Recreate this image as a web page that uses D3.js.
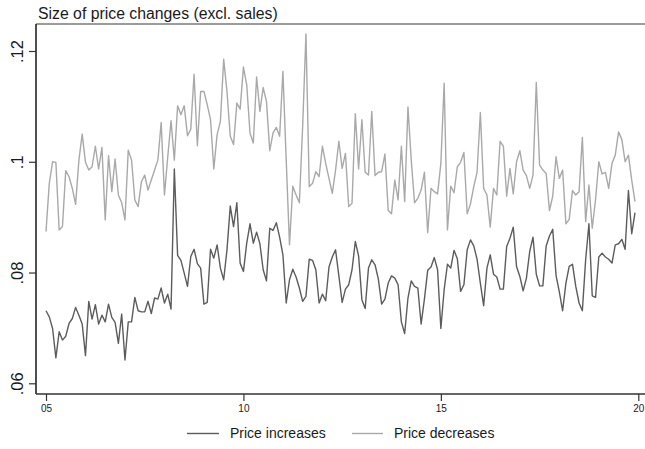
<!DOCTYPE html>
<html>
<head>
<meta charset="utf-8">
<script src="https://cdn.jsdelivr.net/npm/d3@7/dist/d3.min.js"></script>
<style>
  html, body { margin: 0; padding: 0; background: #fff; }
  svg { display: block; font-family: "Liberation Sans", Arial, sans-serif; }
</style>
</head>
<body>
<svg id="chart" width="645" height="449"></svg>
<script>
// Monthly average size of price changes, January 2005 onwards
const startYear = 2005;

const increases = [
  0.0731,0.0720,0.0699,0.0646,0.0693,0.0678,0.0685,0.0708,0.0717,0.0737,
  0.0723,0.0707,0.0650,0.0748,0.0716,0.0742,0.0707,0.0723,0.0711,0.0743,
  0.0719,0.0710,0.0672,0.0725,0.0642,0.0711,0.0711,0.0755,0.0731,0.0729,
  0.0729,0.0748,0.0726,0.0754,0.0752,0.0772,0.0745,0.0761,0.0734,0.0987,
  0.0831,0.0822,0.0799,0.0775,0.0829,0.0842,0.0816,
  0.0808,0.0743,0.0746,0.0842,0.0826,0.0850,0.0808,0.0787,0.0841,0.0920,
  0.0883,0.0926,0.0817,0.0802,0.0853,0.0888,0.0853,0.0873,0.0852,0.0805,
  0.0785,0.0880,0.0876,0.0890,0.0864,0.0832,0.0745,0.0787,0.0806,0.0792,
  0.0772,0.0748,0.0757,0.0824,0.0822,0.0805,0.0745,0.0761,0.0749,0.0810,
  0.0828,0.0841,0.0794,0.0746,0.0770,0.0778,
  0.0805,0.0856,0.0830,0.0751,0.0735,0.0808,0.0823,0.0814,0.0788,0.0743,
  0.0752,0.0781,0.0794,0.0790,0.0778,0.0711,0.0690,0.0754,0.0785,0.0775,
  0.0772,0.0707,0.0752,0.0804,0.0810,0.0827,0.0805,0.0699,0.0769,0.0815,
  0.0808,0.0840,0.0825,0.0766,0.0778,0.0841,0.0859,0.0848,0.0824,0.0781,
  0.0740,0.0808,0.0832,0.0797,0.0792,0.0770,
  0.0770,0.0847,0.0862,0.0882,0.0811,0.0793,0.0767,0.0790,0.0838,0.0864,
  0.0797,0.0776,0.0776,0.0848,0.0866,0.0878,0.0795,0.0765,0.0731,0.0781,
  0.0811,0.0815,0.0775,0.0745,0.0731,0.0823,0.0888,0.0758,0.0755,0.0828,
  0.0835,0.0828,0.0824,0.0817,0.0850,0.0852,0.0860,0.0842,0.0948,0.0870,
  0.0908
];

const decreases = [
  0.0874,0.0961,0.1000,0.0999,0.0877,0.0883,0.0984,0.0973,0.0952,0.0923,
  0.1003,0.1050,0.0999,0.0985,0.0991,0.1028,0.0987,0.1026,0.0895,0.1011,
  0.0946,0.1005,0.0940,0.0926,0.0895,0.1021,0.1003,0.0931,0.0919,0.0964,
  0.0976,0.0949,0.0967,0.0985,0.1003,0.1071,0.0940,0.1009,0.1074,0.1003,
  0.1101,0.1085,0.1101,0.1047,0.1059,0.1158,0.1029,
  0.1127,0.1127,0.1103,0.1076,0.0987,0.1049,0.1073,0.1185,0.1127,0.1046,
  0.1031,0.1106,0.1095,0.1171,0.1139,0.1052,0.1034,0.1153,0.1091,0.1134,
  0.1109,0.1020,0.1052,0.1062,0.1046,0.1163,0.1003,0.0850,0.0956,0.0940,
  0.0926,0.1064,0.1231,0.0955,0.0961,0.0982,0.0973,0.1028,0.0997,0.0970,
  0.0943,0.0985,0.1037,0.0988,0.1015,0.0919,
  0.0925,0.1087,0.0987,0.1076,0.0981,0.0976,0.1091,0.0975,0.0981,0.0982,
  0.1014,0.0912,0.0906,0.0967,0.0931,0.1028,0.0928,0.1099,0.1003,0.0926,
  0.0934,0.0949,0.0981,0.0872,0.0952,0.0946,0.0942,0.0997,0.1142,0.0877,
  0.0956,0.0944,0.0991,0.0999,0.1017,0.0906,0.0924,0.0955,0.0981,0.1089,
  0.0952,0.0940,0.0882,0.0952,0.0940,0.1037,
  0.1028,0.0938,0.0988,0.0942,0.1000,0.1020,0.0985,0.0975,0.0952,0.0976,
  0.1143,0.0994,0.0985,0.0979,0.0912,0.0938,0.1009,0.0970,0.0985,0.0888,
  0.0896,0.0948,0.0940,0.0946,0.1044,0.0892,0.0958,0.0880,0.0931,0.1000,
  0.0978,0.0981,0.0952,0.0997,0.1012,0.1054,0.1040,0.1000,0.1012,0.0967,
  0.0928
];

const xTickValues = [2005, 2010, 2015, 2020];
const xTickLabels = ["05", "10", "15", "20"];
const yTickValues = [0.06, 0.08, 0.10, 0.12];
const yTickLabels = [".06", ".08", ".1", ".12"];

const seriesNames = ["Price increases", "Price decreases"];
const seriesColors = ["#5c5c5c", "#a9a9a9"];

const svg = d3.select("#chart");

// plot region
const frame = { left: 36, top: 24, right: 645, bottom: 394 };

const x = d3.scaleLinear().domain([2005, 2020]).range([46, 638.3]);
const y = d3.scaleLinear().domain([0.06, 0.12]).range([383.3, 51]);

const monthX = i => x(startYear + i / 12);

// title
svg.append("text")
  .attr("x", 38).attr("y", 19)
  .attr("font-size", 15.8)
  .attr("fill", "#1a1a1a")
  .text("Size of price changes (excl. sales)");

// top border of the plot region
svg.append("line")
  .attr("x1", frame.left).attr("x2", frame.right)
  .attr("y1", frame.top).attr("y2", frame.top)
  .attr("stroke", "#7a7a7a").attr("stroke-width", 1.6);

// series lines
const line = d3.line()
  .x((d, i) => monthX(i))
  .y(d => y(d));

[increases, decreases].forEach((vals, k) => {
  svg.append("path")
    .datum(vals)
    .attr("fill", "none")
    .attr("stroke", seriesColors[k])
    .attr("stroke-width", 1.4)
    .attr("stroke-linejoin", "round")
    .attr("d", line);
});

// y axis
const yAxis = svg.append("g")
  .attr("transform", `translate(${frame.left},0)`)
  .call(d3.axisLeft(y)
    .tickValues(yTickValues)
    .tickFormat((d, i) => yTickLabels[i])
    .tickSize(7)
    .tickPadding(0));
yAxis.select(".domain")
  .attr("d", `M0,${frame.top}V${frame.bottom}`)
  .attr("stroke", "#222").attr("stroke-width", 1.6);
yAxis.selectAll(".tick line").attr("stroke", "#333").attr("stroke-width", 1.2);
yAxis.selectAll(".tick text")
  .attr("x", null).attr("dy", null)
  .attr("transform", "translate(-13.3,0) rotate(-90)")
  .attr("text-anchor", "middle")
  .attr("font-size", 16.5)
  .attr("font-family", "Liberation Sans, Arial, sans-serif")
  .attr("fill", "#1a1a1a");

// x axis
const xAxis = svg.append("g")
  .attr("transform", `translate(0,${frame.bottom})`)
  .call(d3.axisBottom(x)
    .tickValues(xTickValues)
    .tickFormat((d, i) => xTickLabels[i])
    .tickSize(7)
    .tickPadding(4));
xAxis.select(".domain")
  .attr("d", `M${frame.left},0H${frame.right}`)
  .attr("stroke", "#333").attr("stroke-width", 1.6);
xAxis.selectAll(".tick line").attr("stroke", "#333").attr("stroke-width", 1.2);
xAxis.selectAll(".tick text")
  .attr("font-size", 10)
  .attr("font-family", "Liberation Sans, Arial, sans-serif")
  .attr("fill", "#1a1a1a");

// legend
const legendItems = [
  { x1: 187, x2: 219, tx: 230 },
  { x1: 352, x2: 383, tx: 394 }
];
const legend = svg.append("g");
legendItems.forEach((it, k) => {
  legend.append("line")
    .attr("x1", it.x1).attr("x2", it.x2)
    .attr("y1", 433.5).attr("y2", 433.5)
    .attr("stroke", seriesColors[k]).attr("stroke-width", 1.4);
  legend.append("text")
    .attr("x", it.tx).attr("y", 438)
    .attr("font-size", 14)
    .attr("fill", "#1a1a1a")
    .text(seriesNames[k]);
});
</script>
</body>
</html>
